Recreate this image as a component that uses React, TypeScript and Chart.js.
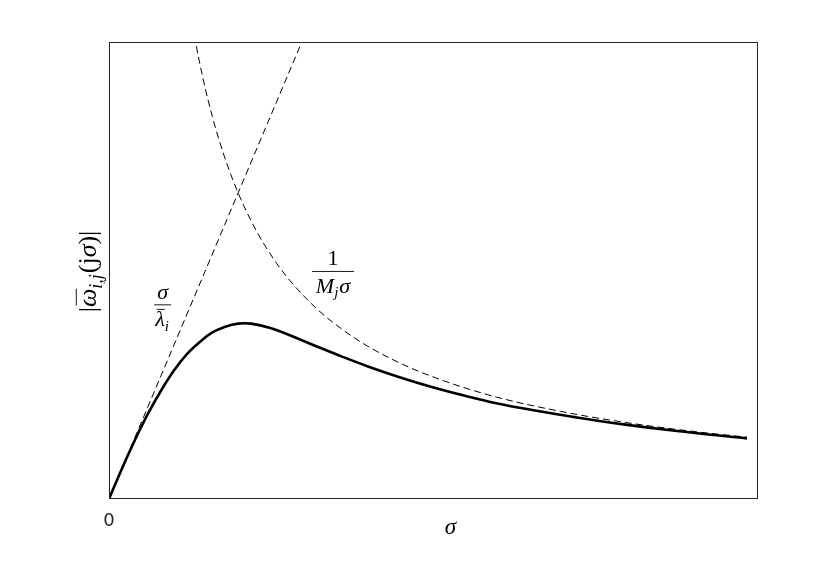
import React, { useEffect, useRef } from "react";
import { Chart, registerables } from "chart.js";

Chart.register(...registerables);

// sigma axis range and magnitude axis range (arbitrary units, crossing of asymptotes at 1,1)
const xMin = 0;
const xMax = 5.026;
const yMin = 0;
const yMax = 1.493;

// solid curve |omega_ij(j sigma)|
const responseSigma = [0, 0.1, 0.2, 0.3, 0.4, 0.5, 0.6, 0.7, 0.8, 0.9, 1.0, 1.1, 1.25, 1.4, 1.6, 1.8, 2.0, 2.25, 2.5, 2.75, 3.0, 3.3, 3.6, 4.0, 4.4, 4.94];
const responseValue = [0, 0.099, 0.192, 0.277, 0.352, 0.418, 0.472, 0.512, 0.544, 0.563, 0.573, 0.573, 0.559, 0.535, 0.5, 0.466, 0.434, 0.398, 0.366, 0.338, 0.313, 0.289, 0.268, 0.243, 0.222, 0.198];

// dashed asymptote sigma / lambda_i
const lowSigma = [0, 1.5];
const lowValue = [0, 1.5];

// dashed asymptote 1 / (M_j sigma)
const highSigma = [0.66, 0.7, 0.75, 0.8, 0.85, 0.92, 1, 1.1, 1.2, 1.3, 1.4, 1.6, 1.8, 2, 2.3, 2.6, 3, 3.5, 4, 4.5, 4.94];
const highValue = [1.515, 1.429, 1.333, 1.25, 1.176, 1.087, 1, 0.909, 0.833, 0.769, 0.714, 0.625, 0.556, 0.5, 0.435, 0.385, 0.333, 0.286, 0.25, 0.222, 0.202];

const xTickLabel = "0";

type Run = { t: string; it?: boolean; sub?: boolean; bar?: boolean };

const SERIF = '"Liberation Serif", "DejaVu Serif", serif';

function drawRuns(ctx: CanvasRenderingContext2D, runs: Run[], cx: number, cy: number, size: number) {
  const fontFor = (r: Run) => `${r.it ? "italic " : ""}${r.sub ? Math.round(size * 0.7) : size}px ${SERIF}`;
  const widths: number[] = [];
  let total = 0;
  for (const r of runs) {
    ctx.font = fontFor(r);
    const w = ctx.measureText(r.t).width + (r.sub ? 1 : 0);
    widths.push(w);
    total += w;
  }
  let xx = cx - total / 2;
  const base = cy + size * 0.3;
  ctx.textAlign = "left";
  ctx.textBaseline = "alphabetic";
  runs.forEach((r, i) => {
    ctx.font = fontFor(r);
    ctx.fillText(r.t, xx, base + (r.sub ? size * 0.22 : 0));
    if (r.bar) {
      ctx.beginPath();
      ctx.lineWidth = 0.9;
      ctx.moveTo(xx + 1.5, base - size * 0.75);
      ctx.lineTo(xx + widths[i], base - size * 0.75);
      ctx.stroke();
    }
    xx += widths[i];
  });
  return total;
}

function drawFraction(ctx: CanvasRenderingContext2D, num: Run[], den: Run[], cx: number, barY: number, size: number, barW: number) {
  drawRuns(ctx, num, cx, barY - size * 0.55, size);
  drawRuns(ctx, den, cx, barY + size * 0.68, size);
  ctx.beginPath();
  ctx.lineWidth = 0.9;
  ctx.moveTo(cx - barW / 2, barY + 0.5);
  ctx.lineTo(cx + barW / 2, barY + 0.5);
  ctx.stroke();
}

const annotations = {
  id: "annotations",
  afterDraw(chart: any) {
    const { ctx, chartArea: a, scales } = chart;
    const x = scales.x;
    const y = scales.y;
    ctx.save();
    ctx.strokeStyle = "#262626";
    ctx.fillStyle = "#262626";
    ctx.lineWidth = 1;
    ctx.strokeRect(a.left + 0.5, a.top + 0.5, a.right - a.left - 1, a.bottom - a.top - 1);

    // tick label 0
    ctx.font = '18px "DejaVu Sans", sans-serif';
    ctx.textAlign = "center";
    ctx.textBaseline = "middle";
    ctx.fillText(xTickLabel, x.getPixelForValue(0), a.bottom + 22);

    ctx.strokeStyle = "#000";
    ctx.fillStyle = "#000";
    // x title sigma
    drawRuns(ctx, [{ t: "σ", it: true }], (a.left + a.right) / 2 + 17, a.bottom + 28, 23);

    // y title
    ctx.save();
    ctx.translate(a.left - 21, (a.top + a.bottom) / 2 + 1);
    ctx.rotate(-Math.PI / 2);
    drawRuns(
      ctx,
      [
        { t: "|" },
        { t: "ω", it: true, bar: true },
        { t: "i,j", it: true, sub: true },
        { t: "(j" },
        { t: "σ", it: true },
        { t: ")|" },
      ],
      0,
      0,
      26
    );
    ctx.restore();

    // sigma / lambda_i
    drawFraction(
      ctx,
      [{ t: "σ", it: true }],
      [{ t: "λ", it: true, bar: true }, { t: "i", it: true, sub: true }],
      x.getPixelForValue(0.415),
      y.getPixelForValue(0.636),
      22,
      17
    );

    // 1 / (M_j sigma)
    drawFraction(
      ctx,
      [{ t: "1" }],
      [{ t: "M", it: true }, { t: "j", it: true, sub: true }, { t: "σ", it: true }],
      x.getPixelForValue(1.735),
      y.getPixelForValue(0.745),
      22,
      42
    );
    ctx.restore();
  },
};

export default function App() {
  const ref = useRef<HTMLCanvasElement | null>(null);
  useEffect(() => {
    if (!ref.current) return;
    const toPts = (xs: number[], ys: number[]) => xs.map((v, i) => ({ x: v, y: ys[i] }));
    const chart = new Chart(ref.current, {
      type: "line",
      data: {
        datasets: [
          {
            label: "1/(M_j σ)",
            data: toPts(highSigma, highValue),
            borderColor: "#000",
            borderWidth: 1,
            borderDash: [7, 4],
            pointRadius: 0,
            cubicInterpolationMode: "monotone",
            fill: false,
          },
          {
            label: "σ/λ_i",
            data: toPts(lowSigma, lowValue),
            borderColor: "#000",
            borderWidth: 1,
            borderDash: [7, 4],
            pointRadius: 0,
            fill: false,
          },
          {
            label: "|ω_ij(jσ)|",
            data: toPts(responseSigma, responseValue),
            borderColor: "#000",
            borderWidth: 2.6,
            pointRadius: 0,
            tension: 0.4,
            fill: false,
          },
        ],
      },
      options: {
        responsive: false,
        animation: false,
        layout: { padding: { left: 109, top: 42, right: 81, bottom: 63 } },
        plugins: { legend: { display: false }, tooltip: { enabled: false } },
        scales: {
          x: { type: "linear", min: xMin, max: xMax, display: false },
          y: { type: "linear", min: yMin, max: yMax, display: false },
        },
      },
      plugins: [annotations],
    });
    return () => chart.destroy();
  }, []);
  return (
    <div style={{ position: "absolute", left: 0, top: 0, width: 839, height: 562, background: "#fff" }}>
      <canvas ref={ref} width={839} height={562} />
    </div>
  );
}
